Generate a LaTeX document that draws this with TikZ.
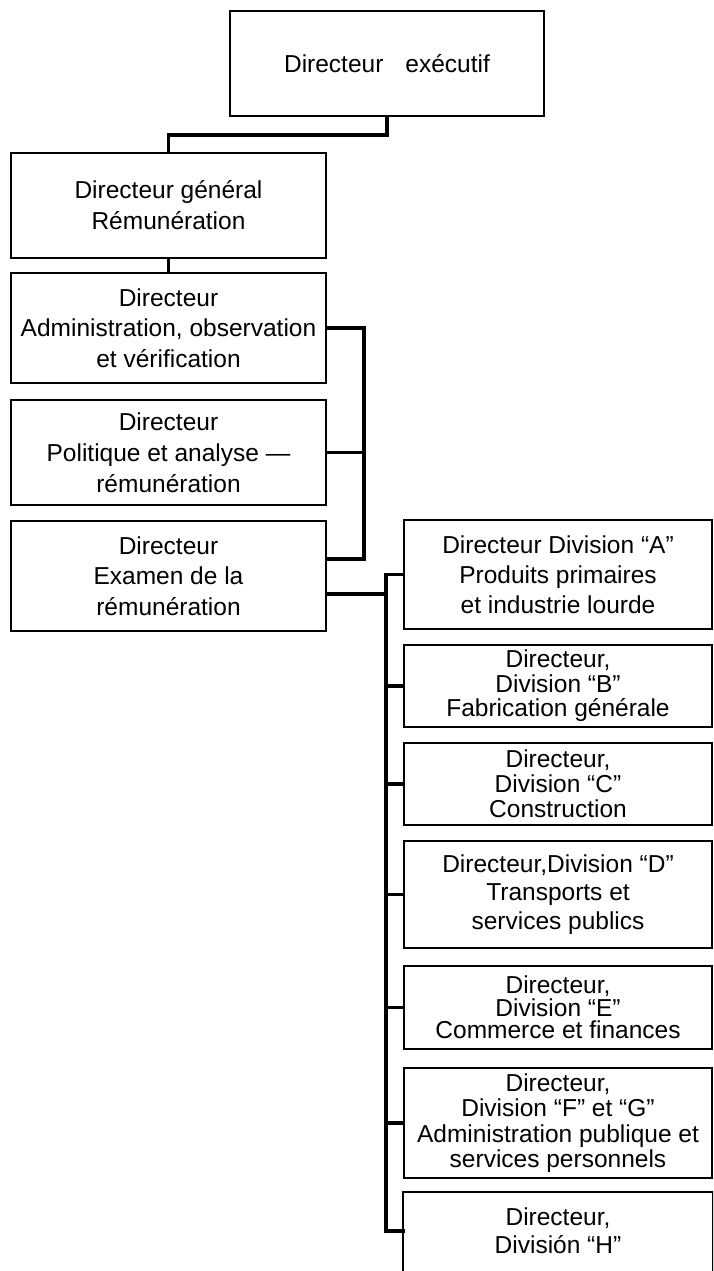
\documentclass[tikz,border=0pt]{standalone}
\usepackage{fontspec}
\setmainfont{Liberation Sans}
\usetikzlibrary{calc}
\begin{document}
\begin{tikzpicture}[x=1pt,y=-1pt,
  box/.style={draw, line width=2pt, align=center, anchor=north west, inner sep=0pt},
  fs/.style={font=\fontsize{24.5}{#1}\selectfont},
  lbox/.style={box, minimum width=315},
  rbox/.style={box, minimum width=308},
  conn/.style={line width=3.4pt, line cap=rect}]
\useasboundingbox (0,0) rectangle (713,1271);
\clip (0,0) rectangle (713,1271);
\fill[white] (0,0) rectangle (713,1271);

\node[box, minimum width=314, minimum height=105, fs=30] (top) at (229,10) {Directeur\hspace{0.9em}exécutif};
\node[lbox, minimum height=105, fs=31] (b2) at (10,152) {Directeur général\\Rémunération};
\node[lbox, minimum height=110, fs=30.5] (b3) at (10,272) {Directeur\\Administration, observation\\et vérification};
\node[lbox, minimum height=105, fs=31] (b4) at (10,399) {Directeur\\Politique et analyse ---\\rémunération};
\node[lbox, minimum height=110, fs=30.5] (b5) at (10,520) {Directeur\\Examen de la\\rémunération};

\node[rbox, minimum height=109, fs=30] (dA) at (403,519) {Directeur Division ``A''\\Produits primaires\\et industrie lourde};
\node[rbox, minimum height=82, fs=24.5] (dB) at (403,644) {Directeur,\\Division ``B''\\Fabrication générale};
\node[rbox, minimum height=82, fs=25] (dC) at (403,742) {Directeur,\\Division ``C''\\Construction};
\node[rbox, minimum height=107, fs=28.5] (dD) at (403,840) {Directeur,Division ``D''\\Transports et\\services publics};
\node[rbox, minimum height=83, fs=22.5] (dE) at (403,965) {Directeur,\\Division ``E''\\Commerce et finances};
\node[rbox, minimum height=110, fs=25.5] (dF) at (403,1067) {Directeur,\\Division ``F'' et ``G''\\Administration publique et\\services personnels};
\node[rbox, draw=none, minimum height=76, fs=28] (dH) at (403,1192) {Directeur,\\División ``H''};
\draw[line width=2pt] ($(dH.south west)+(0,40)$) -- (dH.north west) -- (dH.north east) -- ($(dH.south east)+(0,40)$);

\coordinate (brx) at (364,0);
\coordinate (spine) at (386,0);

\draw[conn] (top.south) -- ++(0,18) -| (b2.north);
\draw[conn] (b2.south) -- (b3.north);
\draw[conn] (b3.east) -| ([yshift=17pt]b5.east -| brx) -- ([yshift=17pt]b5.east);
\draw[conn] (b4.east) -- (b4.east -| brx);
\draw[conn] ([yshift=-18pt]b5.east) -- ([yshift=-18pt]b5.east -| spine);
\draw[conn] (dA.west) -- (dA.west -| spine) -- (dH.west -| spine) -- (dH.west);
\foreach \n in {dB,dC,dD,dE,dF}
  \draw[conn] (\n.west) -- (\n.west -| spine);
\end{tikzpicture}
\end{document}
